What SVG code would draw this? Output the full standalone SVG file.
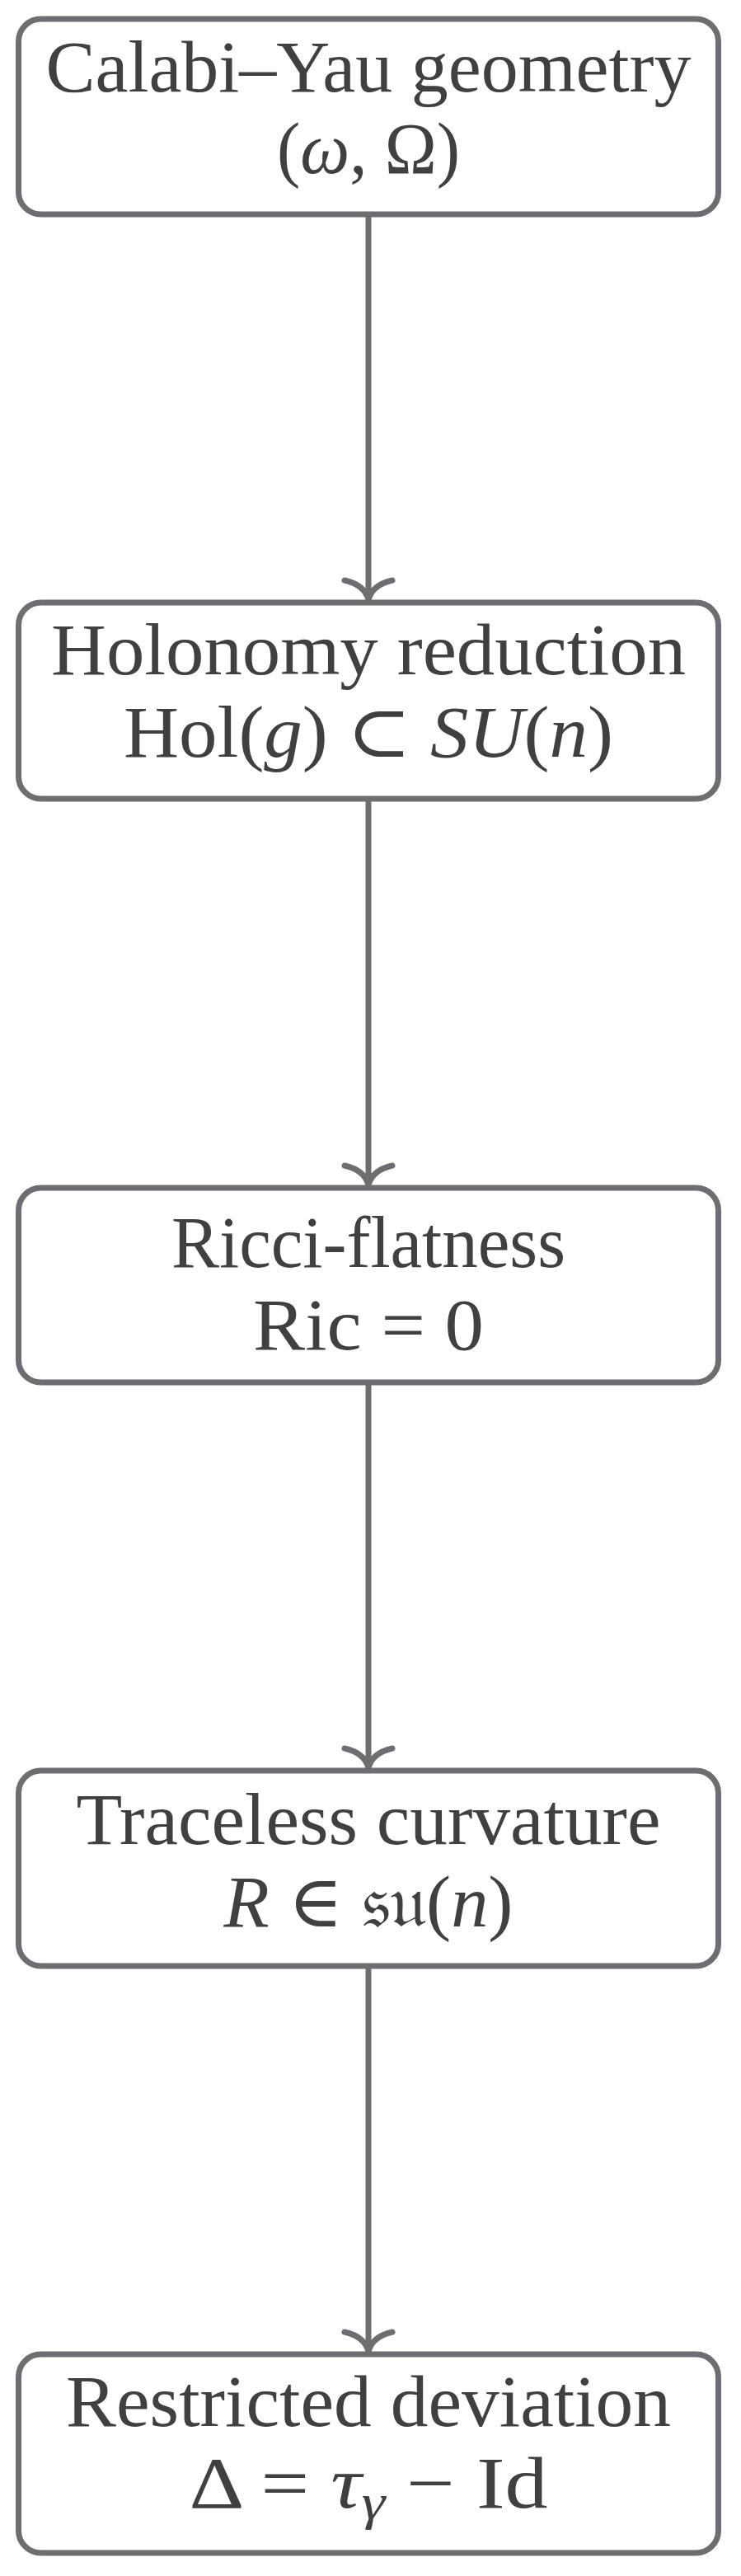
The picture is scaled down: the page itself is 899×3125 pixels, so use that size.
<svg xmlns="http://www.w3.org/2000/svg" width="899" height="3125" viewBox="0 0 899 3125">
<style>
.box{fill:#ffffff;stroke:#6d6e71;stroke-width:7}
.t{font-family:"Liberation Serif","DejaVu Serif",serif;font-size:88px;fill:#404040;text-anchor:middle}
.m{font-style:italic}
.conn{fill:none;stroke:#6d6e71;stroke-width:7;stroke-linecap:round}
</style>
<rect x="0" y="0" width="899" height="3125" fill="#ffffff"/>
<g id="connectors">
<path class="conn" d="M447 263.5 V726 M418 704 C431 707 444 714 447 728 M476 704 C463 707 450 714 447 728"/>
<path class="conn" d="M447 972.5 V1436 M418 1414 C431 1417 444 1424 447 1438 M476 1414 C463 1417 450 1424 447 1438"/>
<path class="conn" d="M447 1680.5 V2143 M418 2121 C431 2124 444 2131 447 2145 M476 2121 C463 2124 450 2131 447 2145"/>
<path class="conn" d="M447 2388.5 V2851 M418 2829 C431 2832 444 2839 447 2853 M476 2829 C463 2832 450 2839 447 2853"/>
</g>
<g id="calabi-yau">
<rect class="box" x="22.5" y="23" width="849" height="237" rx="27"/>
<text class="t" x="447" y="111" textLength="783" lengthAdjust="spacingAndGlyphs">Calabi–Yau geometry</text>
<text class="t" x="447" y="210" textLength="222" lengthAdjust="spacingAndGlyphs">(<tspan class="m">ω</tspan>, Ω)</text>
</g>
<g id="holonomy">
<rect class="box" x="22.5" y="731" width="849" height="238" rx="27"/>
<text class="t" x="447" y="818" textLength="770" lengthAdjust="spacingAndGlyphs">Holonomy reduction</text>
<text class="t" x="447" y="918" textLength="594" lengthAdjust="spacingAndGlyphs">Hol(<tspan class="m">g</tspan>) ⊂ <tspan class="m">SU</tspan>(<tspan class="m">n</tspan>)</text>
</g>
<g id="ricci">
<rect class="box" x="22.5" y="1441" width="849" height="236" rx="27"/>
<text class="t" x="447" y="1537" textLength="478" lengthAdjust="spacingAndGlyphs">Ricci-flatness</text>
<text class="t" x="447" y="1637" textLength="280" lengthAdjust="spacingAndGlyphs">Ric = 0</text>
</g>
<g id="traceless">
<rect class="box" x="22.5" y="2148" width="849" height="237" rx="27"/>
<text class="t" x="447" y="2237" textLength="709" lengthAdjust="spacingAndGlyphs">Traceless curvature</text>
<text class="t" x="447" y="2337" textLength="351" lengthAdjust="spacingAndGlyphs"><tspan class="m">R</tspan> ∈ 𝔰𝔲(<tspan class="m">n</tspan>)</text>
</g>
<g id="deviation">
<rect class="box" x="22.5" y="2856" width="849" height="241" rx="27"/>
<text class="t" x="447" y="2943" textLength="734" lengthAdjust="spacingAndGlyphs">Restricted deviation</text>
<text class="t" x="447" y="3042" textLength="435" lengthAdjust="spacingAndGlyphs">Δ = <tspan class="m">τ</tspan><tspan class="m" font-size="62" dy="14">γ</tspan><tspan dy="-14"> − Id</tspan></text>
</g>
</svg>
